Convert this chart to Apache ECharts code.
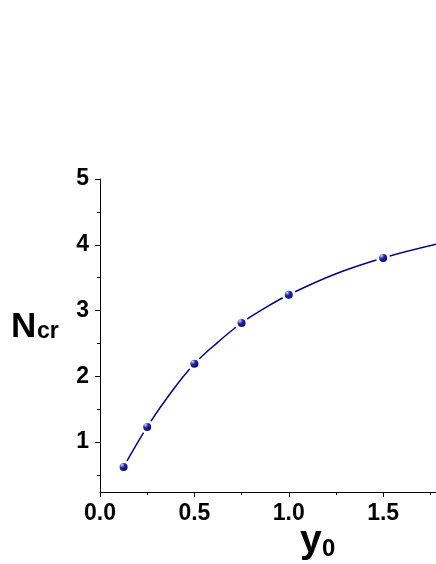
<!DOCTYPE html>
<html>
<head>
<meta charset="utf-8">
<script src="https://cdn.jsdelivr.net/npm/echarts@6/dist/echarts.min.js"></script>
<style>
  html, body { margin: 0; padding: 0; background: #fff; }
  #chart { width: 436px; height: 564px; }
</style>
</head>
<body>
<div id="chart"></div>
<script>
// measured points (y0, Ncr)
const pointX = [0.125, 0.25, 0.5, 0.75, 1.0, 1.5];
const pointY = [0.62, 1.23, 2.19, 2.81, 3.24, 3.80];

// fitted curve
const curveX = [0.125, 0.25, 0.375, 0.5, 0.625, 0.75, 0.875, 1.0, 1.25, 1.5, 1.8];
const curveY = [0.62, 1.23, 1.75, 2.19, 2.52, 2.81, 3.04, 3.24, 3.56, 3.80, 4.02];

// ticks
const yMajorTicks = [1, 2, 3, 4, 5];
const yMinorTicks = [0.5, 1.5, 2.5, 3.5, 4.5];
const xMinorTicks = [0.25, 0.75, 1.25, 1.75];

const chart = echarts.init(document.getElementById("chart"));

const FONT = "'Liberation Sans', Arial, sans-serif";
const NAVY = "#000080";

const labelStyle = {
  color: "#000",
  fontFamily: FONT,
  fontWeight: "bold",
  fontSize: 23,
};

const sphere = new echarts.graphic.RadialGradient(0.38, 0.35, 0.55, [
  { offset: 0, color: "#d8d8ff" },
  { offset: 0.35, color: "#2a2aa8" },
  { offset: 1, color: "#000050" },
]);

const option = {
  backgroundColor: "#fff",
  animation: false,
  grid: { left: 100, right: 0, top: 179, bottom: 72, containLabel: false },
  xAxis: [
    {
      type: "value",
      min: 0,
      max: 1.78,
      interval: 0.5,
      axisLine: { show: true, lineStyle: { color: "#000", width: 1 } },
      axisTick: { show: true, inside: false, length: 5, lineStyle: { color: "#000" } },
      axisLabel: { ...labelStyle, margin: 10, showMaxLabel: false, formatter: (v) => v.toFixed(1) },
      splitLine: { show: false },
    },
    {
      type: "value",
      min: 0,
      max: 1.78,
      position: "bottom",
      axisLine: { show: false },
      axisTick: { show: true, inside: false, length: 3, customValues: xMinorTicks, lineStyle: { color: "#000" } },
      axisLabel: { show: false },
      splitLine: { show: false },
    },
  ],
  yAxis: [
    {
      type: "value",
      min: 0.24,
      max: 5,
      axisLine: { show: true, lineStyle: { color: "#000", width: 1 } },
      axisTick: { show: true, inside: false, length: 5, customValues: yMajorTicks, lineStyle: { color: "#000" } },
      axisLabel: { ...labelStyle, margin: 11, customValues: yMajorTicks, formatter: (v) => String(v) },
      splitLine: { show: false },
    },
    {
      type: "value",
      min: 0.24,
      max: 5,
      position: "left",
      axisLine: { show: false },
      axisTick: { show: true, inside: false, length: 3, customValues: yMinorTicks, lineStyle: { color: "#000" } },
      axisLabel: { show: false },
      splitLine: { show: false },
    },
  ],
  graphic: [
    { type: "text", left: 11, top: 310, style: { text: "N", font: "bold 35px " + FONT, fill: "#000" } },
    { type: "text", left: 37, top: 320, style: { text: "cr", font: "bold 23px " + FONT, fill: "#000" } },
    { type: "text", left: 300, top: 522, style: { text: "y", font: "bold 39px " + FONT, fill: "#000" } },
    { type: "text", left: 322, top: 537, style: { text: "0", font: "bold 24px " + FONT, fill: "#000" } },
  ],
  series: [
    {
      name: "fit",
      type: "line",
      data: curveX.map((x, i) => [x, curveY[i]]),
      smooth: 0.4,
      showSymbol: false,
      clip: true,
      lineStyle: { color: NAVY, width: 1.5 },
      z: 2,
    },
    {
      name: "data",
      type: "scatter",
      data: pointX.map((x, i) => [x, pointY[i]]),
      symbol: "circle",
      symbolSize: 11,
      itemStyle: { color: sphere, borderColor: "#fff", borderWidth: 3, opacity: 1 },
      z: 3,
    },
  ],
};

chart.setOption(option);
</script>
</body>
</html>
